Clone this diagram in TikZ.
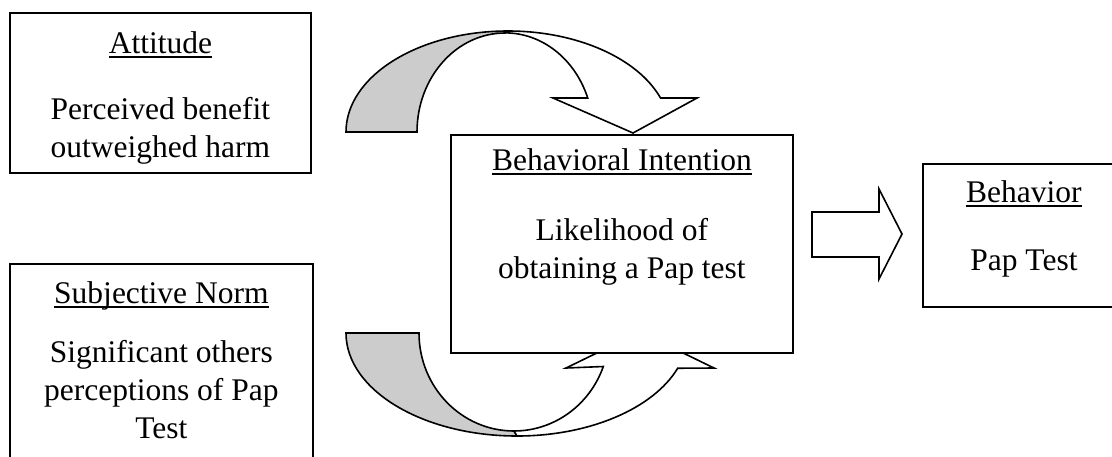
\documentclass[tikz,border=0pt]{standalone}
\usepackage{fontspec}
\setmainfont{Liberation Serif}
\usetikzlibrary{positioning, calc}

\definecolor{shade}{gray}{0.8}
\newcommand{\ttl}[1]{\setbox0\hbox{#1}\rlap{\rule[-2.5pt]{\wd0}{0.9pt}}\box0}

\begin{document}
\begin{tikzpicture}[
    x=0.5pt, y=-0.5pt,
    box/.style={
        rectangle, draw=black, line width=0.9pt,
        fill=white, inner sep=0pt, anchor=north west},
    txt/.style={
        align=center, anchor=base, inner sep=0pt,
        font=\fontsize{15.75}{19}\selectfont},
    band/.style={draw=black, line width=0.8pt, line join=miter}]

\useasboundingbox (0,0) rectangle (1112,456);

% Curved arrow from the attitude (top)
\draw[band, fill=shade] (346,132)
    arc[start angle=180, end angle=270, x radius=162, y radius=101]
    -- (505,33)
    arc[start angle=270, end angle=180, x radius=88, y radius=99] -- cycle;
\draw[band, fill=white] (508,31)
    arc[start angle=270, end angle=340.3, x radius=162, y radius=101]
    -- (697,98) -- (633,133) -- (553,98) -- (587.7,98)
    arc[start angle=340, end angle=270, x radius=88, y radius=99] -- cycle;

% Curved arrow from the subjective norm (bottom)
\draw[band, fill=shade] (346,333)
    arc[start angle=180, end angle=90, x radius=171, y radius=103]
    -- (514,431)
    arc[start angle=90, end angle=180, x radius=95, y radius=98] -- cycle;
\draw[band, fill=white] (517,436)
    arc[start angle=90, end angle=20, x radius=171, y radius=103]
    -- (714,368) -- (640,332) -- (566,368) -- (603.3,366.5)
    arc[start angle=20, end angle=90, x radius=95, y radius=98] -- cycle;

% Boxes
\node[box, minimum width=150.5pt, minimum height=80pt]  (att)    at (9,12)    {};
\node[box, minimum width=151.5pt, minimum height=101pt] (norm)   at (9,263)   {};
\node[box, minimum width=171pt,   minimum height=109pt] (intent) at (450,134) {};
\node[box, minimum width=101pt,   minimum height=71.5pt] (behav) at (922,163) {};

\node[txt] (attText)    at ([yshift=-72.5pt]att.north)
    {\ttl{Attitude}\\[14pt]Perceived benefit\\outweighed harm};
\node[txt] (normText)   at ([yshift=-87.5pt]norm.north)
    {\ttl{Subjective Norm}\\[10.5pt]Significant others\\perceptions of Pap\\Test};
\node[txt] (intentText) at ([yshift=-72pt]intent.north)
    {\ttl{Behavioral Intention}\\[16pt]Likelihood of\\obtaining a Pap test};
\node[txt] (behavText)  at ([yshift=-53.5pt]behav.north)
    {\ttl{Behavior}\\[15pt]Pap Test};

% Block arrow to the behavior
\draw[band, fill=white] (812,212) -- (879,212) -- (879,189) -- (902,234)
    -- (879,279) -- (879,257) -- (812,257) -- cycle;

\end{tikzpicture}
\end{document}
